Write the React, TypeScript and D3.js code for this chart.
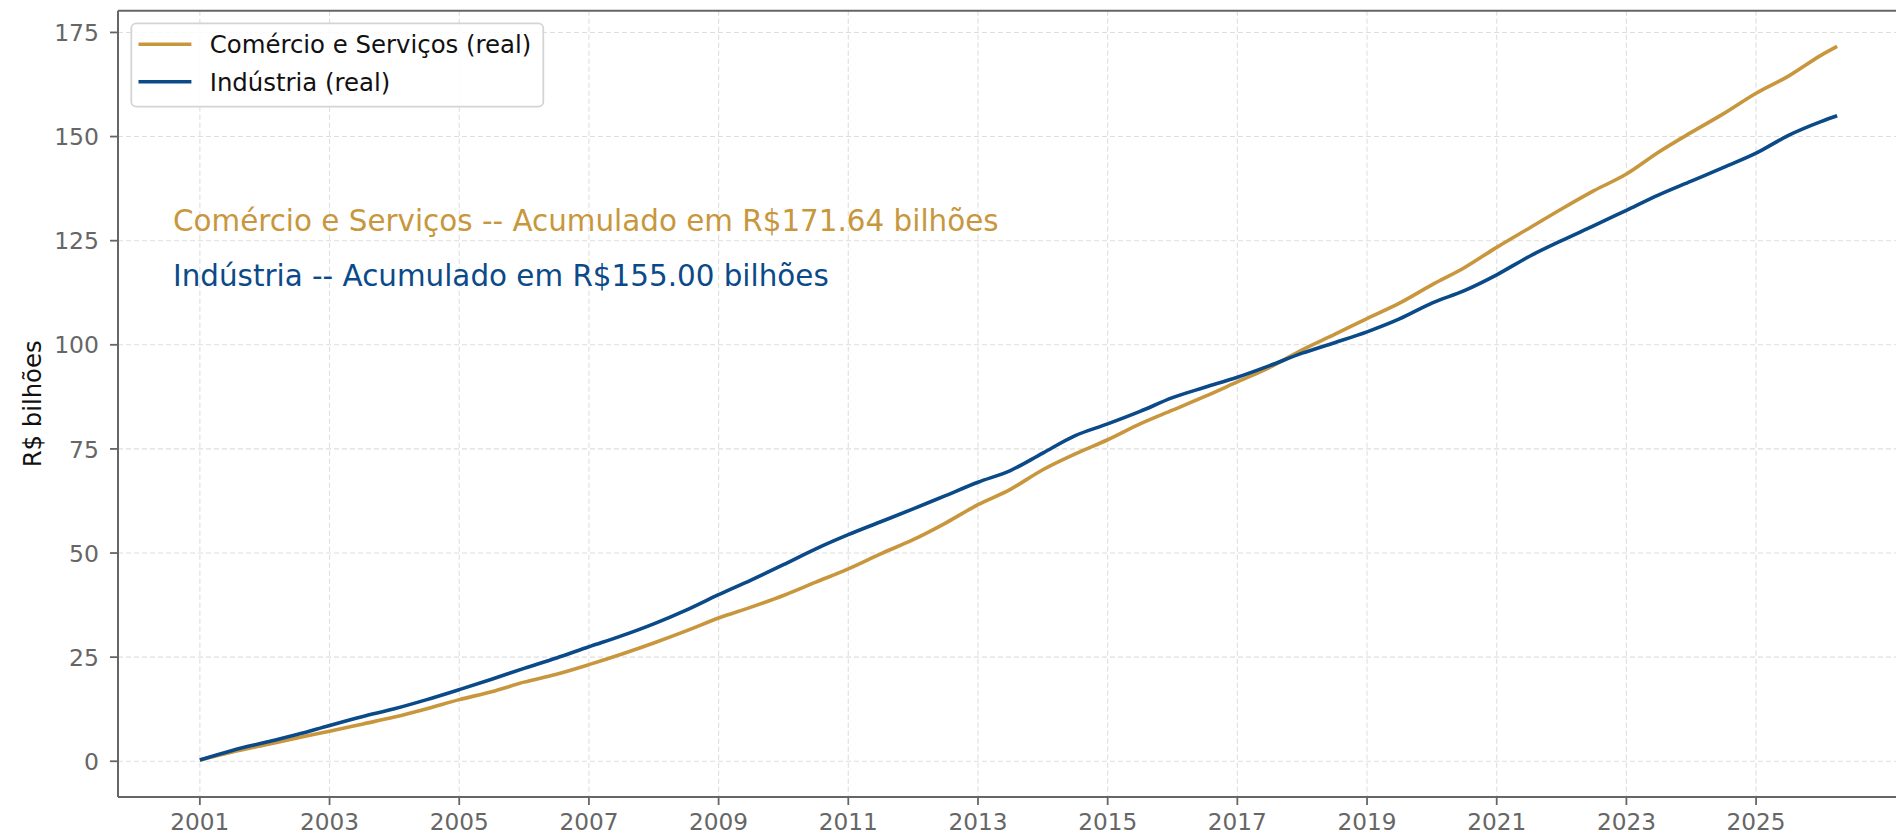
import React from 'react';
import * as d3 from 'd3';

// semi-annual readings (R$ bilhões, accumulated)
const periods = [
  '2001-01', '2001-07', '2002-01', '2002-07', '2003-01', '2003-07', '2004-01', '2004-07',
  '2005-01', '2005-07', '2006-01', '2006-07', '2007-01', '2007-07', '2008-01', '2008-07',
  '2009-01', '2009-07', '2010-01', '2010-07', '2011-01', '2011-07', '2012-01', '2012-07',
  '2013-01', '2013-07', '2014-01', '2014-07', '2015-01', '2015-07', '2016-01', '2016-07',
  '2017-01', '2017-07', '2018-01', '2018-07', '2019-01', '2019-07', '2020-01', '2020-07',
  '2021-01', '2021-07', '2022-01', '2022-07', '2023-01', '2023-07', '2024-01', '2024-07',
  '2025-01', '2025-07', '2026-01', '2026-04',
];

const comercio = [
  0.3, 2.2, 3.9, 5.6, 7.2, 8.9, 10.6, 12.6,
  14.8, 16.7, 19.0, 20.9, 23.2, 25.7, 28.4, 31.3,
  34.4, 37.0, 39.8, 43.0, 46.2, 49.8, 53.2, 57.2,
  61.6, 65.3, 70.0, 73.8, 77.2, 81.0, 84.3, 87.6,
  91.1, 94.6, 98.8, 102.5, 106.3, 110.0, 114.4, 118.5,
  123.4, 128.0, 132.6, 137.0, 141.0, 146.3, 151.0, 155.5,
  160.4, 164.5, 169.5, 171.64,
];

const industria = [
  0.3, 2.6, 4.5, 6.4, 8.6, 10.7, 12.6, 14.8,
  17.2, 19.7, 22.3, 24.8, 27.5, 30.1, 33.0, 36.3,
  40.0, 43.5, 47.2, 51.0, 54.4, 57.5, 60.6, 63.8,
  67.0, 69.8, 74.0, 78.2, 81.0, 84.0, 87.3, 89.8,
  92.2, 95.0, 98.0, 100.5, 103.1, 106.2, 110.0, 113.0,
  116.8, 121.2, 125.0, 128.6, 132.3, 136.0, 139.3, 142.6,
  146.0, 150.3, 153.6, 155.0,
];

const xTicks = [2001, 2003, 2005, 2007, 2009, 2011, 2013, 2015, 2017, 2019, 2021, 2023, 2025];
const yTicks = [0, 25, 50, 75, 100, 125, 150, 175];

const GOLD = '#C8973D';
const BLUE = '#0B4A89';
const FONT = '"DejaVu Sans", sans-serif';

const toYear = (p: string) => {
  const [y, m] = p.split('-').map(Number);
  return y + (m - 1) / 12;
};

export default function App() {
  const width = 1896;
  const height = 836;
  const plot = { left: 118, top: 10.7, right: 1919, bottom: 797 };

  const years = periods.map(toYear);
  const [x0, x1] = d3.extent(years) as [number, number];
  const xPad = (x1 - x0) * 0.05;
  const x = d3.scaleLinear().domain([x0 - xPad, x1 + xPad]).range([plot.left, plot.right]);

  const yMax = d3.max(comercio.concat(industria)) || 0;
  const yPad = yMax * 0.05;
  const y = d3.scaleLinear().domain([-yPad, yMax + yPad]).range([plot.bottom, plot.top]);

  const line = d3
    .line<number>()
    .x((_, i) => x(years[i]))
    .y(d => y(d))
    .curve(d3.curveMonotoneX);

  const series = [
    { name: 'Comércio e Serviços (real)', values: comercio, color: GOLD },
    { name: 'Indústria (real)', values: industria, color: BLUE },
  ];

  const lastC = comercio[comercio.length - 1];
  const lastI = industria[industria.length - 1];

  return (
    <svg
      width={width}
      height={height}
      style={{ position: 'absolute', left: 0, top: 0, display: 'block', background: '#fff' }}
      fontFamily={FONT}
    >
      {/* grid */}
      <g stroke="#dedede" strokeWidth={1.1} strokeDasharray="5,3">
        {yTicks.map(t => (
          <line key={'gy' + t} x1={plot.left} x2={plot.right} y1={y(t)} y2={y(t)} />
        ))}
        {xTicks.map(t => (
          <line key={'gx' + t} x1={x(t)} x2={x(t)} y1={plot.top} y2={plot.bottom} />
        ))}
      </g>

      {/* series */}
      {series.map(s => (
        <path
          key={s.name}
          d={line(s.values) || ''}
          fill="none"
          stroke={s.color}
          strokeWidth={3.6}
          strokeLinejoin="round"
          strokeLinecap="butt"
        />
      ))}

      {/* spines */}
      <g stroke="#666" strokeWidth={2} fill="none">
        <line x1={plot.left} x2={plot.left} y1={plot.top} y2={plot.bottom} />
        <line x1={plot.left} x2={plot.right} y1={plot.bottom} y2={plot.bottom} />
        <line x1={plot.left} x2={plot.right} y1={plot.top} y2={plot.top} />
      </g>

      {/* y axis */}
      <g>
        {yTicks.map(t => (
          <g key={'yt' + t}>
            <line x1={plot.left - 8} x2={plot.left} y1={y(t)} y2={y(t)} stroke="#666" strokeWidth={1.8} />
            <text x={99} y={y(t) + 8.6} textAnchor="end" fontSize={23.5} fill="#666">
              {t}
            </text>
          </g>
        ))}
      </g>

      {/* x axis */}
      <g>
        {xTicks.map(t => (
          <g key={'xt' + t}>
            <line x1={x(t)} x2={x(t)} y1={plot.bottom} y2={plot.bottom + 8} stroke="#666" strokeWidth={1.8} />
            <text x={x(t)} y={829.5} textAnchor="middle" fontSize={23.2} fill="#666">
              {t}
            </text>
          </g>
        ))}
      </g>

      <text
        transform={`translate(41,${(plot.top + plot.bottom) / 2}) rotate(-90)`}
        textAnchor="middle"
        fontSize={24.3}
        fill="#111"
      >
        R$ bilhões
      </text>

      {/* annotations */}
      <text x={173} y={231} fontSize={29.4} fill={GOLD}>
        {`Comércio e Serviços -- Acumulado em R$${lastC.toFixed(2)} bilhões`}
      </text>
      <text x={173} y={286} fontSize={29.4} fill={BLUE}>
        {`Indústria -- Acumulado em R$${lastI.toFixed(2)} bilhões`}
      </text>

      {/* legend */}
      <g>
        <rect x={131.3} y={23.3} width={412} height={83.4} rx={5} fill="#fff" fillOpacity={0.85} stroke="#d4d4d4" strokeWidth={1.8} />
        {series.map((s, i) => (
          <g key={'lg' + s.name} transform={`translate(0,${44.3 + i * 37.4})`}>
            <line x1={138.5} x2={191.4} y1={0} y2={0} stroke={s.color} strokeWidth={3.6} />
            <text x={209.7} y={8.9} fontSize={24.4} fill="#111">
              {s.name}
            </text>
          </g>
        ))}
      </g>
    </svg>
  );
}
